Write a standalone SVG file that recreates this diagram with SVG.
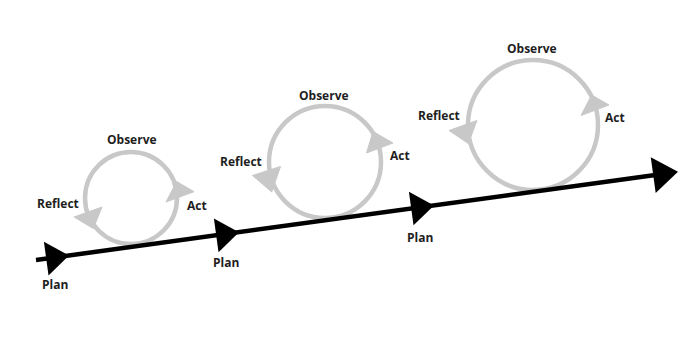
<svg xmlns="http://www.w3.org/2000/svg" width="684" height="347" viewBox="0 0 684 347">
  <style>
    .ring { fill: none; stroke: #c8c8c8; stroke-width: 4.5; }
    .head { fill: #c8c8c8; stroke: #c8c8c8; stroke-width: 1; stroke-linejoin: round; }
    .lbl { font-family: "Open Sans", "Liberation Sans", sans-serif; font-weight: bold; font-size: 12px; fill: #1e1e1e; }
    .axis { fill: none; stroke: #000; stroke-width: 4.5; }
    .tri { fill: #000; }
  </style>
  <defs>
    <polygon id="planTri" points="0,0 -23,-17 -23,17"/>
  </defs>
  <rect width="684" height="347" fill="#fff"/>

  <g id="cycle1">
    <circle class="ring" cx="131" cy="198" r="46"/>
    <polygon class="head" points="176.7,181.5 194,191.7 166,202"/>
    <polygon class="head" points="74,217 102,207 93.3,228.5"/>
    <text class="lbl" x="107" y="144">Observe</text>
    <text class="lbl" x="37" y="208">Reflect</text>
    <text class="lbl" x="187" y="210">Act</text>
  </g>

  <g id="cycle2">
    <circle class="ring" cx="325" cy="162" r="56"/>
    <polygon class="head" points="373,131.5 393,143 366.5,153"/>
    <polygon class="head" points="252.5,175.5 280.5,166.5 271.7,192"/>
    <text class="lbl" x="299" y="100">Observe</text>
    <text class="lbl" x="220" y="166">Reflect</text>
    <text class="lbl" x="390" y="160">Act</text>
  </g>

  <g id="cycle3">
    <circle class="ring" cx="533" cy="125" r="65"/>
    <polygon class="head" points="591.7,95 609,105 581,115.5"/>
    <polygon class="head" points="449,130.5 477,120.5 468.3,143.5"/>
    <text class="lbl" x="507" y="53">Observe</text>
    <text class="lbl" x="418" y="120">Reflect</text>
    <text class="lbl" x="605" y="122">Act</text>
  </g>

  <g id="connectors">
    <line class="axis" x1="36" y1="260" x2="668" y2="173.2"/>
    <use href="#planTri" class="tri" transform="translate(69,255.5) rotate(-7.83)"/>
    <use href="#planTri" class="tri" transform="translate(239,232.2) rotate(-7.83)"/>
    <use href="#planTri" class="tri" transform="translate(434,205.4) rotate(-7.83)"/>
    <polygon class="tri" points="0,0 -25,-18 -25,18" transform="translate(678,171.8) rotate(-7.83)"/>
  </g>

  <g id="plan1"><text class="lbl" x="42" y="289">Plan</text></g>
  <g id="plan2"><text class="lbl" x="213" y="267">Plan</text></g>
  <g id="plan3"><text class="lbl" x="407" y="242">Plan</text></g>
</svg>
